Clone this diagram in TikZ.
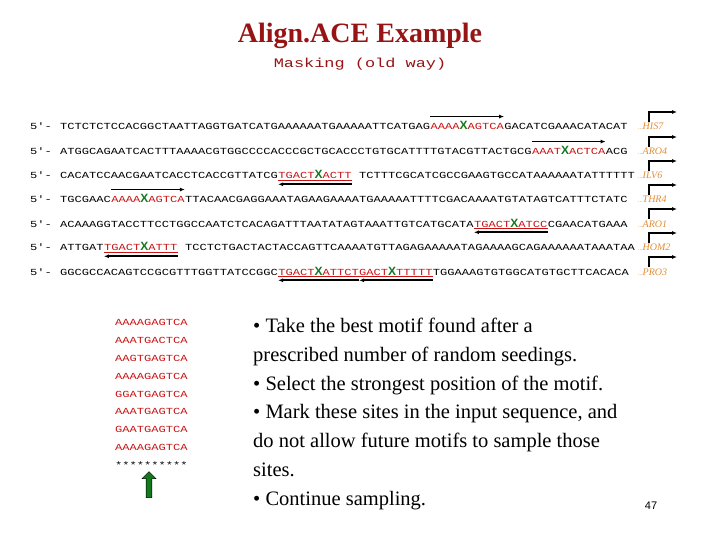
\documentclass[tikz,border=0pt]{standalone}
\usepackage{fontspec}
\setmainfont{Liberation Serif}
\newfontfamily\seqf[FakeStretch=1.3]{Liberation Mono}
\newfontfamily\sansf{Liberation Sans}
\usetikzlibrary{arrows.meta,shapes.arrows}
\definecolor{mred}{RGB}{200,20,20}
\definecolor{mgreen}{RGB}{20,120,30}
\definecolor{morange}{RGB}{225,140,50}
\definecolor{tred}{RGB}{150,20,20}
\newcommand{\XX}{{\sansf\bfseries\fontsize{12}{12}\selectfont\color{mgreen}X}}
\begin{document}
\begin{tikzpicture}[x=1pt,y=-1pt,
  sq/.style={font=\seqf\fontsize{9.3}{10}\selectfont, inner sep=0pt, anchor=base west},
  mt/.style={sq, text=mred},
  fw/.style={-{Latex[length=5pt,width=4pt]}, line width=1.6pt},
  ul/.style={mred, line width=0.6pt},
  gene/.style={font=\fontsize{10}{10}\selectfont\itshape, text=morange, anchor=base west, inner sep=0pt},
  bul/.style={font=\fontsize{20.5}{20}\selectfont, anchor=base west, inner sep=0pt}]
\useasboundingbox (0,0) rectangle (720,540);
\node[font=\bfseries\fontsize{28}{28}\selectfont, text=tred] (title) at (360,36) {Align.ACE Example};
\node[font=\seqf\fontsize{13}{13}\selectfont, text=tred] (sub) at (360,64) {Masking (old way)};
\foreach \y/\n in {130/1,155/2,179/3,203/4,227/5,251/6,275/7}{
  \node[sq] (p\n) at (30,\y) {5'-};}
\node[sq] (a1) at (60,130) {TCTCTCTCCACGGCTAATTAGGTGATCATGAAAAAATGAAAAATTCATGAG };
\node[mt] (m1) at (a1.base east) {AAAA\XX AGTCA};
\node[sq] (b1) at (m1.base east) {GACATCGAAACATACAT};
\draw[fw] ([yshift=5pt]m1.north west) -- ([yshift=5pt]m1.north east);
\node[sq] (a2) at (60,155) {ATGGCAGAATCACTTTAAAACGTGGCCCCACCCGCTGCACCCTGTGCATTTTGTACGTTACTGCG };
\node[mt] (m2) at (a2.base east) {AAAT\XX ACTCA};
\node[sq] (b2) at (m2.base east) {ACG};
\draw[fw] ([yshift=5pt]m2.north west) -- ([yshift=5pt]m2.north east);
\node[sq] (a3) at (60,179) {CACATCCAACGAATCACCTCACCGTTATCG};
\node[mt] (m3) at (a3.base east) {TGACT\XX ACTT};
\node[sq] (b3) at (m3.base east) {\ TCTTTCGCATCGCCGAAGTGCCATAAAAAATATTTTTT};
\draw[ul] ([yshift=-1pt]m3.south west) -- ([yshift=-1pt]m3.south east);
\draw[fw] ([yshift=-5pt]m3.south east) -- ([yshift=-5pt]m3.south west);
\node[sq] (a4) at (60,203) {TGCGAAC};
\node[mt] (m4) at (a4.base east) {AAAA\XX AGTCA};
\node[sq] (b4) at (m4.base east) {TTACAACGAGGAAATAGAAGAAAATGAAAAATTTTCGACAAAATGTATAGTCATTTCTATC};
\draw[fw] ([yshift=5pt]m4.north west) -- ([yshift=5pt]m4.north east);
\node[sq] (a5) at (60,227) {ACAAAGGTACCTTCCTGGCCAATCTCACAGATTTAATATAGTAAATTGTCATGCATA };
\node[mt] (m5) at (a5.base east) {TGACT\XX ATCC};
\node[sq] (b5) at (m5.base east) {CGAACATGAAA};
\draw[ul] ([yshift=-1pt]m5.south west) -- ([yshift=-1pt]m5.south east);
\draw[fw] ([yshift=-5pt]m5.south east) -- ([yshift=-5pt]m5.south west);
\node[sq] (a6) at (60,251) {ATTGAT};
\node[mt] (m6) at (a6.base east) {TGACT\XX ATTT};
\node[sq] (b6) at (m6.base east) {\ TCCTCTGACTACTACCAGTTCAAAATGTTAGAGAAAAATAGAAAAGCAGAAAAAATAAATAA};
\draw[ul] ([yshift=-1pt]m6.south west) -- ([yshift=-1pt]m6.south east);
\draw[fw] ([yshift=-5pt]m6.south east) -- ([yshift=-5pt]m6.south west);
\node[sq] (a7) at (60,275) {GGCGCCACAGTCCGCGTTTGGTTATCCGGC};
\node[mt] (m7) at (a7.base east) {TGACT\XX ATTCT};
\node[mt] (n7) at (m7.base east) {GACT\XX TTTTT};
\node[sq] (b7) at (n7.base east) {TGGAAAGTGTGGCATGTGCTTCACACA};
\draw[ul] ([yshift=-1pt]m7.south west) -- ([yshift=-1pt]n7.south east);
\draw[fw] ([yshift=-5pt]m7.south east) -- ([yshift=-5pt]m7.south west);
\draw[fw] ([yshift=-5pt]n7.south east) -- ([yshift=-5pt]n7.south west);
\foreach \y/\g/\n in {130/HIS7/1,155/ARO4/2,179/ILV6/3,203/THR4/4,227/ARO1/5,251/HOM2/6,275/PRO3/7}{
  \node[gene] (g\n) at (638,\y) {{\upshape\fontsize{6}{6}\selectfont\color{morange}...}\g};
  \coordinate (gs\n) at (649,\y-8);
  \draw[-{Latex[length=5pt,width=4pt]}, line width=1.4pt] (gs\n) |- ++(28,-10);
}
\foreach \s [count=\i] in {AAAAGAGTCA,AAATGACTCA,AAGTGAGTCA,AAAAGAGTCA,GGATGAGTCA,AAATGAGTCA,GAATGAGTCA,AAAAGAGTCA}{
  \node[mt] (l\i) at (115,308+\i*17.8) {\s};}
\node[sq] (stars) at (115,468.5) {**********};
\node[single arrow, shape border rotate=90, draw=black, fill=mgreen, minimum height=26pt, minimum width=14pt, single arrow head extend=2.5pt, inner sep=1.5pt] (ga) at (149,486) {};
\node[bul] (t1) at (253,332) {• Take the best motif found after a};
\node[bul] (t2) at (253,361) {prescribed number of random seedings.};
\node[bul] (t3) at (253,390) {• Select the strongest position of the motif.};
\node[bul] (t4) at (253,418) {• Mark these sites in the input sequence, and};
\node[bul] (t5) at (253,447) {do not allow future motifs to sample those};
\node[bul] (t6) at (253,476) {sites.};
\node[bul] (t7) at (253,505) {• Continue sampling.};
\node[font=\sansf\fontsize{11}{11}\selectfont] (pg) at (651,506) {47};
\end{tikzpicture}
\end{document}
